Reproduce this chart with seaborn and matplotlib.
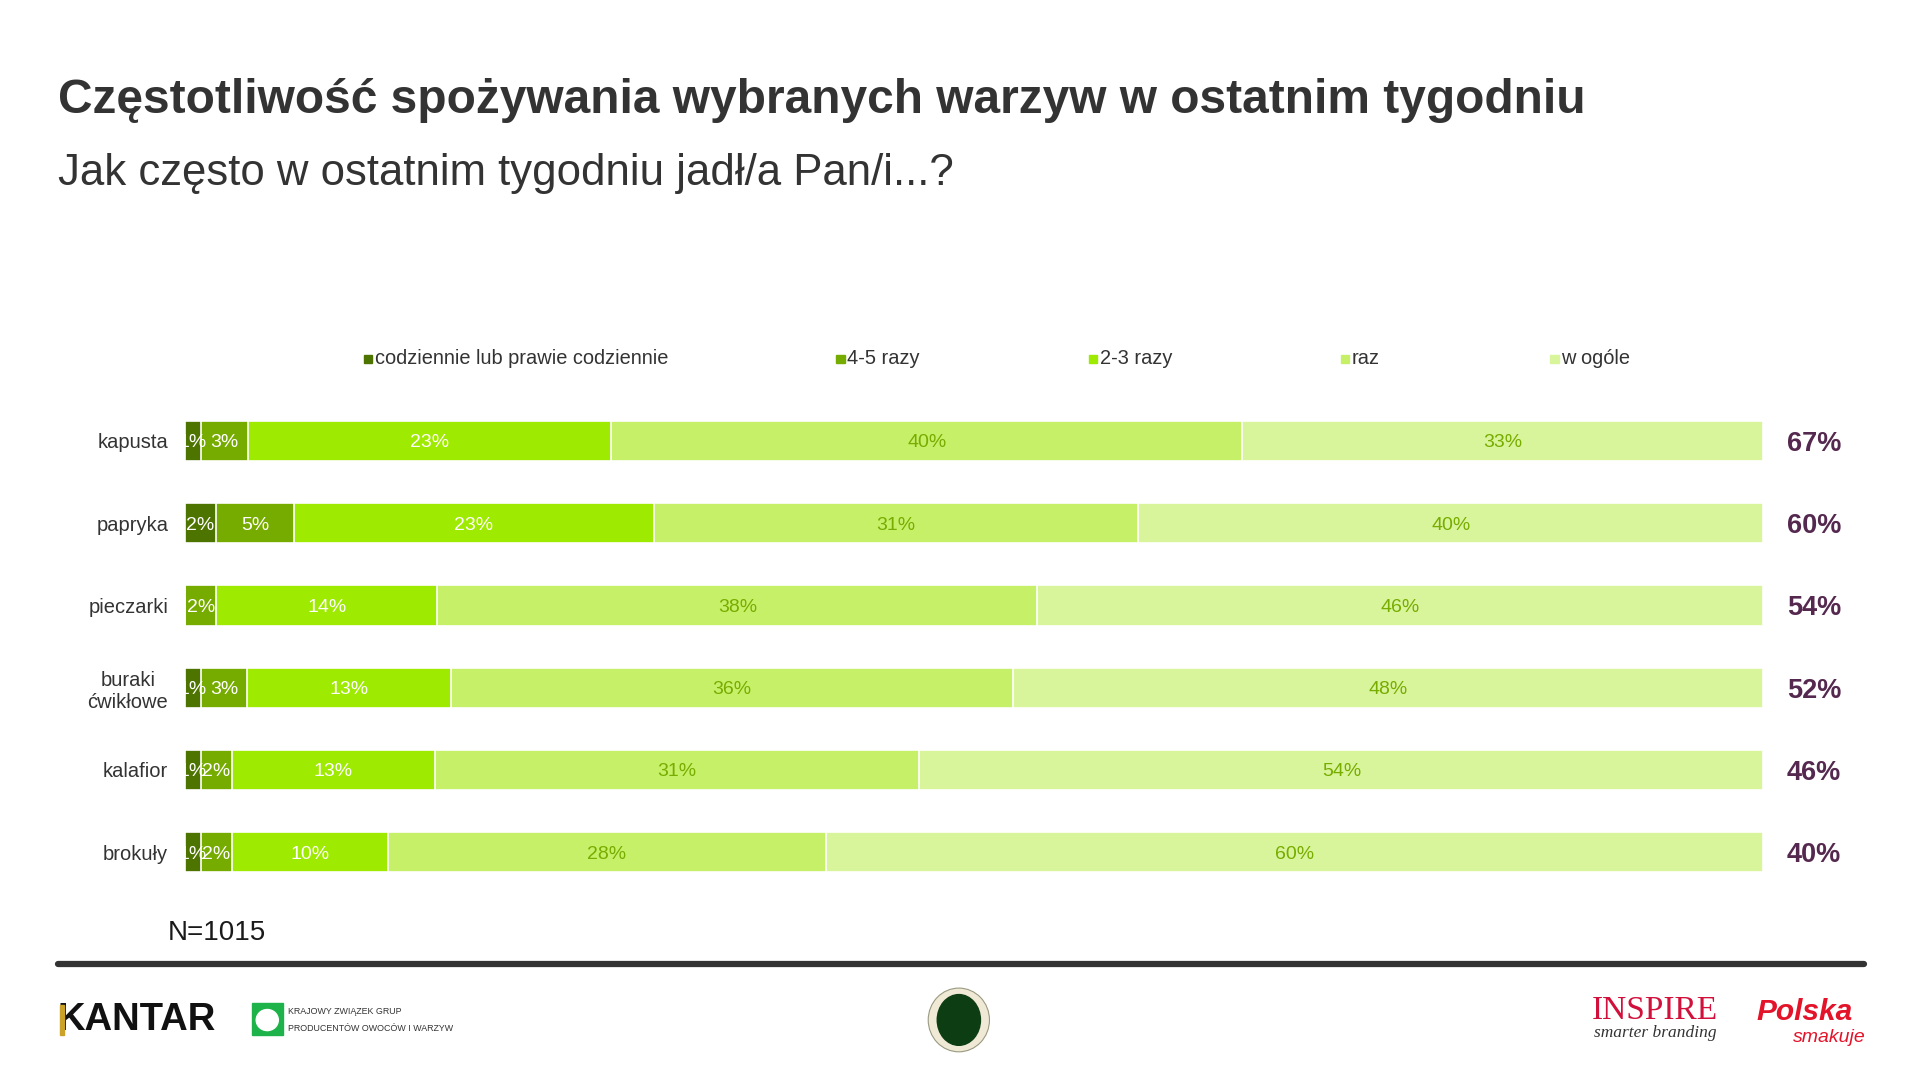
import pandas as pd
import matplotlib.pyplot as plt
import seaborn as sns
from matplotlib.patches import Rectangle, Ellipse
from matplotlib.lines import Line2D

# --- data ---
vegetables = ["kapusta", "papryka", "pieczarki", "buraki\nćwikłowe", "kalafior", "brokuły"]
series = ["codziennie lub prawie codziennie", "4-5 razy", "2-3 razy", "raz", "w ogóle"]
daily = [1, 2, 0, 1, 1, 1]
four_five = [3, 5, 2, 3, 2, 2]
two_three = [23, 23, 14, 13, 13, 10]
once = [40, 31, 38, 36, 31, 28]
never = [33, 40, 46, 48, 54, 60]
ate_total = ["67%", "60%", "54%", "52%", "46%", "40%"]

colors = ["#4e7400", "#76ac00", "#9eea00", "#c6f068", "#d9f59b"]
label_colors = ["white", "white", "white", "#77ac00", "#77ac00"]

df = pd.DataFrame({"veg": vegetables, series[0]: daily, series[1]: four_five,
                   series[2]: two_three, series[3]: once, series[4]: never})
vals = df[series]
# rows do not always sum to exactly 100 after rounding -> scale bars to full width
shares = vals.div(vals.sum(axis=1), axis=0) * 100
cum = shares.cumsum(axis=1)

sns.set_theme(style="white")
plt.rcParams['font.family'] = ['Liberation Sans', 'DejaVu Sans']

fig = plt.figure(figsize=(19.2, 10.8), dpi=100)
ax = fig.add_axes([0.0963, 0.1728, 0.8221, 0.4571])

# stacked bars: draw cumulative totals from the longest down
for i in range(len(series) - 1, -1, -1):
    plot_df = pd.DataFrame({"veg": vegetables, "cum": cum[series[i]].values})
    sns.barplot(data=plot_df, x="cum", y="veg", orient="y", color=colors[i],
                width=0.49, edgecolor="white", linewidth=1.2, saturation=1, ax=ax)

for r in range(len(vegetables)):
    for i, s in enumerate(series):
        v = vals.iloc[r][s]
        if v == 0:
            continue
        mid = cum.iloc[r][s] - shares.iloc[r][s] / 2
        ax.text(mid, r, f"{v}%", ha="center", va="center_baseline", fontsize=14,
                color=label_colors[i])
    ax.text(103.2, r, ate_total[r], ha="center", va="center_baseline", fontsize=19.5,
            fontweight="bold", color="#55284f", clip_on=False)

ax.set_xlim(0, 100)
ax.set_ylim(5.5, -0.5)
ax.set_xlabel("")
ax.set_ylabel("")
ax.set_xticks([])
ax.tick_params(axis="y", length=0, pad=12, labelsize=14.5, labelcolor="#333333")
for t in ax.get_yticklabels():
    t.set_multialignment("center")
sns.despine(ax=ax, left=True, bottom=True)

# titles
fig.text(0.030, 0.907, "Częstotliwość spożywania wybranych warzyw w ostatnim tygodniu",
         fontsize=34.5, fontweight="bold", color="#333333", va="center")
fig.text(0.030, 0.839, "Jak często w ostatnim tygodniu jadł/a Pan/i...?",
         fontsize=31.5, color="#333333", va="center")

# legend, placed like the original
leg_x = [0.1895, 0.4356, 0.5670, 0.6983, 0.8074]
leg_y = 0.668
for x, c, s in zip(leg_x, colors, series):
    fig.add_artist(Rectangle((x, leg_y - 0.0045), 0.0045, 0.008, color=c,
                             transform=fig.transFigure))
    fig.text(x + 0.0058, leg_y, s, fontsize=14.4, color="#333333", va="center")

fig.text(0.0874, 0.136, "N=1015", fontsize=20, color="#1a1a1a", va="center")
fig.add_artist(Line2D([0.030, 0.9707], [0.1077, 0.1077], lw=4.5, color="#333333",
                      transform=fig.transFigure))

# footer logos (text stand-ins)
fig.text(0.030, 0.0556, "KANTAR", fontsize=27.5, fontweight="bold", color="#111111",
         va="center")
fig.add_artist(Rectangle((0.0312, 0.0420), 0.0022, 0.027, color="#c9a227",
                         transform=fig.transFigure, zorder=5))
fig.add_artist(Rectangle((0.1310, 0.0420), 0.0165, 0.029, color="#1db34a",
                         transform=fig.transFigure))
fig.add_artist(Ellipse((0.1392, 0.0555), 0.0115, 0.0195, color="white",
                       transform=fig.transFigure))
fig.text(0.1500, 0.0635, "KRAJOWY ZWIĄZEK GRUP", fontsize=6.4, color="#333333", va="center")
fig.text(0.1500, 0.0480, "PRODUCENTÓW OWOCÓW I WARZYW", fontsize=6.4, color="#333333",
         va="center")
fig.add_artist(Ellipse((0.4994, 0.0556), 0.0319, 0.0590, facecolor="#efe9d6",
                       edgecolor="#9a9a80", lw=0.8, transform=fig.transFigure))
fig.add_artist(Ellipse((0.4994, 0.0556), 0.0225, 0.0470, color="#0d3d12",
                       transform=fig.transFigure))
fig.text(0.8291, 0.0640, "INSPIRE", fontsize=24, family="Liberation Serif",
         color="#d2103c", va="center")
fig.text(0.8300, 0.0435, "smarter branding", fontsize=12.5, family="Liberation Serif",
         style="italic", color="#333333", va="center")
fig.text(0.9150, 0.0625, "Polska", fontsize=21.5, fontweight="bold", style="italic",
         color="#e3132a", va="center")
fig.text(0.9340, 0.0395, "smakuje", fontsize=14, style="italic", color="#e3132a",
         va="center")

fig.savefig("out.png", dpi=100)
